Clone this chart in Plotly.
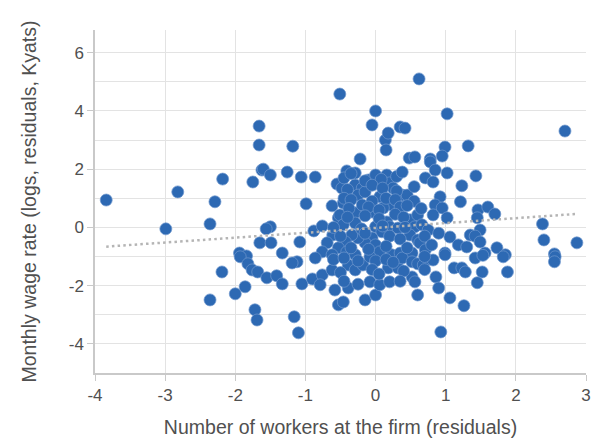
import plotly.graph_objects as go

# worker count residuals (x) and monthly wage residuals (y)
workers_resid = [
    -3.84, -2.99, -2.82, -2.36, -2.29, -2.18, -1.94, -1.84, -1.75, -1.62,
    -1.65, -2.19, -2.36, -2.00, -1.86, -1.72, -1.69, -1.93, -1.82, -1.76,
    -1.66, -1.66, -1.18, -0.51, 0.00, -0.05, 0.14, 0.18, 0.35, 0.42,
    0.15, -0.22, 0.48, 0.62, 1.02, 2.70, 0.99, 1.32, 0.95, 0.78,
    0.56, -1.60, -1.50, -1.26, -1.06, -0.86, -0.99, -1.50, -1.56, -1.49,
    -1.33, -1.08, -0.88, -0.76, -0.62, -0.53, -0.46, -0.41, -0.55, -0.48,
    -0.29, -0.19, -0.10, 0.00, 0.16, 0.20, 0.25, -0.29, -0.25, -0.15,
    0.06, 0.38, 0.45, 0.23, 0.11, -0.05, -0.29, -0.19, -0.51, -0.46,
    -0.29, 0.00, 0.16, 0.20, 0.32, 0.49, 0.56, 0.49, 0.60, 0.09,
    -0.05, -0.15, -0.25, -0.34, -0.43, -0.53, -0.61, -0.69, -0.76, -0.62,
    -0.41, -0.29, 0.00, 0.06, 0.23, 0.35, 0.52, 0.78, 0.85, 1.02,
    0.71, 0.82, 1.43, 1.23, 1.21, 0.92, 0.85, 0.95, 0.60, 0.82,
    1.02, 1.46, 1.60, 1.70, 1.45, 1.49, 1.35, 1.42, 1.06, 1.49,
    1.18, 1.30, 1.73, 1.85, 1.56, 0.99, 0.63, 0.71, 0.66, 0.75,
    2.38, 2.40, 2.87, 2.55, -1.68, -1.55, -1.41, -1.33, -1.16, -1.10,
    -1.05, -1.12, -1.19, -0.86, -0.90, -0.76, -0.79, -0.62, -0.58, -0.53,
    -0.46, -0.39, -0.39, -0.29, -0.18, -0.15, -0.08, 0.00, 0.06, -0.08,
    0.18, 0.32, 0.20, 0.52, 0.56, 0.60, 0.38, 0.52, 0.60, 0.68,
    0.82, 0.99, 0.86, 0.90, 1.06, 1.26, 0.93, 1.12, 1.23, 1.28,
    1.42, 1.53, 1.52, 1.45, 1.88, 1.82, 2.56, 2.55,
    # dense middle of the cloud
    -0.45, -0.35, -0.15, 0.08, 0.30, 0.38,
    -0.40, -0.05, 0.10, 0.30, 0.55,
    -0.45, -0.35, -0.05, 0.15, 0.28, 0.55,
    -0.38, -0.10, 0.05, 0.35, 0.45, 0.65,
    -0.40, -0.15, 0.05, 0.28, 0.40,
    -0.60, -0.20, 0.10, 0.42,
    -0.50, -0.15, 0.20, 0.35, 0.70, 0.90,
    -0.35, -0.10, 0.15, 0.45, 0.80,
    -0.60, -0.45, -0.25, 0.00, 0.15, 0.25, 0.70,
    -0.50, -0.05, 0.05, 0.40, 0.70,
    -0.45, -0.25, 0.35,
]
wage_resid = [
    0.94, -0.05, 1.22, 0.12, 0.88, 1.66, -0.88, -0.98, 1.56, 1.97,
    -0.53, -1.53, -2.49, -2.28, -2.04, -2.83, -3.18, -1.01, -1.25, -1.46,
    3.48, 2.83, 2.79, 4.58, 4.00, 3.52, 3.00, 3.24, 3.45, 3.41,
    2.66, 2.35, 2.38, 5.10, 3.90, 3.31, 2.76, 2.80, 2.45, 2.35,
    2.42, 2.00, 1.80, 1.90, 1.73, 1.73, 0.81, 0.02, -0.05, -0.53,
    -0.88, -0.50, -0.12, 0.05, 0.74, 0.33, 0.84, 1.94, 1.49, 1.35,
    1.46, 1.35, 1.63, 1.80, 1.80, 1.53, 1.35, 1.87, 1.11, 1.22,
    1.05, 1.11, 1.11, 0.77, 0.67, 0.53, 0.50, 0.77, 0.43, 0.09,
    0.15, 0.02, 0.19, 0.02, -0.02, 0.26, 0.02, -0.26, -0.43, -0.15,
    -0.36, -0.53, -0.36, -0.26, -0.50, -0.70, -0.26, -0.53, -0.84, -0.94,
    -0.84, -0.94, -0.60, -0.84, -0.94, -0.88, -0.88, 2.25, 1.97, 1.87,
    1.70, 1.56, 1.77, 1.43, 0.88, 1.05, 0.77, 0.67, 0.43, 0.43,
    0.33, 0.60, 0.70, 0.46, 0.33, -0.09, -0.26, -0.30, -0.33, -0.50,
    -0.60, -0.67, -0.70, -0.94, -0.88, -0.88, -0.53, -0.77, 0.09, -0.09,
    0.12, -0.43, -0.53, -0.91, -1.53, -1.73, -1.66, -1.94, -3.07, -3.62,
    -1.94, -1.18, -1.22, -1.05, -1.77, -1.63, -1.97, -1.46, -2.15, -2.66,
    -2.56, -2.08, -1.29, -1.46, -1.29, -2.49, -1.87, -2.32, -1.97, -1.01,
    -1.39, -1.39, -1.87, -1.70, -1.87, -2.32, -1.05, -1.18, -1.25, -1.29,
    -1.12, -0.94, -1.70, -2.08, -2.42, -2.69, -3.59, -1.39, -1.39, -1.53,
    -1.05, -0.96, -1.53, -1.90, -1.53, -1.01, -1.01, -1.18,
    # dense middle of the cloud
    1.70, 1.85, 1.60, 1.65, 1.75, 1.90,
    1.30, 1.45, 1.35, 1.25, 1.40,
    1.00, 0.95, 0.90, 1.00, 0.95, 0.90,
    0.65, 0.70, 0.60, 0.70, 0.75, 0.65,
    0.35, 0.40, 0.30, 0.45, 0.35,
    0.00, -0.05, 0.05, 0.00,
    -0.30, -0.20, -0.30, -0.40, -0.30, -0.20,
    -0.70, -0.75, -0.65, -0.70, -0.60,
    -1.10, -1.05, -1.15, -1.15, -1.10, -1.20, -1.00,
    -1.55, -1.45, -1.60, -1.50, -1.45,
    -1.85, -1.95, -1.85,
]

# fitted line end points
trend_x = [-3.84, 2.85]
trend_y = [-0.66, 0.46]

# axis ticks (hyphen minus as in the original)
x_ticks = [-4, -3, -2, -1, 0, 1, 2, 3]
x_ticktext = ["-4", "-3", "-2", "-1", "0", "1", "2", "3"]
y_ticks = [-4, -2, 0, 2, 4, 6]
y_ticktext = ["-4", "-2", "0", "2", "4", "6"]

text_col = "#505050"
axis_col = "#c9c9c9"
grid_col = "#e3e3e3"

fig = go.Figure()

fig.add_trace(
    go.Scatter(
        x=workers_resid,
        y=wage_resid,
        mode="markers",
        marker=dict(
            size=12,
            color="#2d69b3",
            line=dict(color="rgba(110,150,205,0.9)", width=0.8),
        ),
        showlegend=False,
    )
)

fig.add_trace(
    go.Scatter(
        x=trend_x,
        y=trend_y,
        mode="lines",
        line=dict(color="#b5b5b5", width=2.5, dash="2.5px,3.2px"),
        showlegend=False,
    )
)

fig.update_layout(
    width=595,
    height=438,
    margin=dict(l=95, r=9, t=30, b=65),
    paper_bgcolor="white",
    plot_bgcolor="white",
    font=dict(family="Liberation Sans, Arial, sans-serif", size=17, color=text_col),
    xaxis=dict(
        range=[-4, 3],
        tickvals=x_ticks,
        ticktext=x_ticktext,
        showgrid=True,
        gridcolor=grid_col,
        gridwidth=1,
        zeroline=False,
        showline=True,
        linecolor=axis_col,
        linewidth=2,
        ticks="outside",
        ticklen=6,
        tickcolor=axis_col,
        automargin=False,
        tickfont=dict(size=17, color=text_col),
        title=dict(text="Number of workers at the firm (residuals)", standoff=18,
                   font=dict(size=19.5, color=text_col)),
    ),
    yaxis=dict(
        range=[-5, 6.78],
        tickvals=y_ticks,
        ticktext=y_ticktext,
        showgrid=True,
        gridcolor=grid_col,
        gridwidth=1,
        minor=dict(dtick=1, tick0=0, showgrid=True, gridcolor=grid_col, gridwidth=1),
        zeroline=False,
        showline=True,
        linecolor=axis_col,
        linewidth=1.5,
        ticks="outside",
        ticklen=6,
        tickcolor=axis_col,
        automargin=False,
        tickfont=dict(size=17, color=text_col),
        title=dict(text="Monthly wage rate (logs, residuals, Kyats)", standoff=27,
                   font=dict(size=19.5, color=text_col)),
    ),
)

# the page body has a default 8px margin; remove it so the chart sits at 0,0
fig.write_html(
    "out.html",
    config={"displayModeBar": False},
    post_script="document.body.style.margin='0';",
)
